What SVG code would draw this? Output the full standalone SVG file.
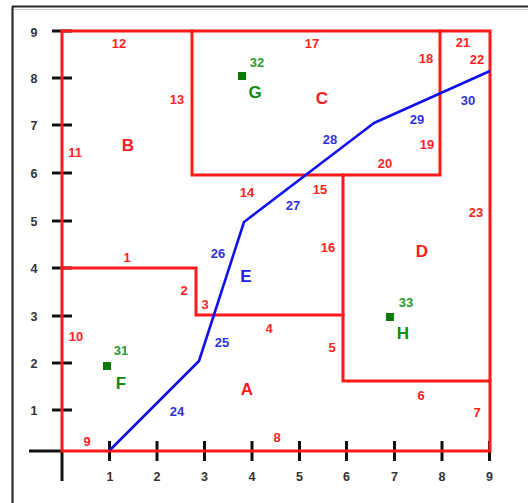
<svg xmlns="http://www.w3.org/2000/svg" width="528" height="503" viewBox="0 0 528 503">
  <style>
    .frame { stroke: #2a2a2a; stroke-width: 2.2; fill: none; }
    .frame2 { stroke: #c8c8c8; stroke-width: 1; fill: none; }
    .axis { stroke: #111; stroke-width: 3; fill: none; }
    .edge { stroke: #ff1a1a; stroke-width: 3; fill: none; stroke-linecap: square; }
    .path { stroke: #1010ee; stroke-width: 2.6; fill: none; stroke-linejoin: round; }
    text { font-family: "Liberation Sans", Arial, sans-serif; font-weight: bold; text-anchor: middle; }
    .tick { font-size: 12.5px; fill: #333; }
    .en { font-size: 13px; fill: #ff2222; }
    .bn { font-size: 13px; fill: #3030e0; }
    .gn { font-size: 13px; fill: #2a982a; }
    .rl { font-size: 17px; fill: #ff1a1a; }
    .bl { font-size: 17px; fill: #1a1ae8; }
    .gl { font-size: 17px; fill: #118a11; }
    .pt { fill: #0a7a0a; }
  </style>
  <rect x="0" y="0" width="528" height="503" fill="#ffffff"/>
  <!-- frame -->
  <line class="frame" x1="12.5" y1="6.5" x2="12.5" y2="503"/>
  <line class="frame" x1="12" y1="6.5" x2="528" y2="6.5"/>
  <line class="frame2" x1="14" y1="9.5" x2="528" y2="9.5"/>

  <!-- axes -->
  <g id="axes">
    <line class="axis" x1="29" y1="451" x2="62" y2="451"/>
    <line class="axis" x1="62" y1="451" x2="62" y2="481"/>
    <g class="axis">
      <line x1="52" y1="31" x2="72" y2="31"/>
      <line x1="52" y1="78" x2="72" y2="78"/>
      <line x1="52" y1="125" x2="72" y2="125"/>
      <line x1="52" y1="173" x2="72" y2="173"/>
      <line x1="52" y1="221" x2="72" y2="221"/>
      <line x1="52" y1="268" x2="72" y2="268"/>
      <line x1="52" y1="316" x2="72" y2="316"/>
      <line x1="52" y1="363" x2="72" y2="363"/>
      <line x1="52" y1="410" x2="72" y2="410"/>
      <line x1="109.5" y1="441" x2="109.5" y2="461"/>
      <line x1="157" y1="441" x2="157" y2="461"/>
      <line x1="204.5" y1="441" x2="204.5" y2="461"/>
      <line x1="252" y1="441" x2="252" y2="461"/>
      <line x1="299.5" y1="441" x2="299.5" y2="461"/>
      <line x1="346.5" y1="441" x2="346.5" y2="461"/>
      <line x1="394.5" y1="441" x2="394.5" y2="461"/>
      <line x1="442" y1="441" x2="442" y2="461"/>
      <line x1="489.5" y1="441" x2="489.5" y2="461"/>
    </g>
    <g class="tick">
      <text x="34" y="36.5">9</text>
      <text x="34" y="83">8</text>
      <text x="34" y="130">7</text>
      <text x="34" y="178">6</text>
      <text x="34" y="226">5</text>
      <text x="34" y="273">4</text>
      <text x="34" y="321">3</text>
      <text x="34" y="368">2</text>
      <text x="34" y="415">1</text>
      <text x="110" y="481">1</text>
      <text x="157" y="481">2</text>
      <text x="204.5" y="481">3</text>
      <text x="252" y="481">4</text>
      <text x="299.5" y="481">5</text>
      <text x="346.5" y="481">6</text>
      <text x="394.5" y="481">7</text>
      <text x="442" y="481">8</text>
      <text x="489.5" y="481">9</text>
    </g>
  </g>

  <!-- region edges -->
  <g id="edges" class="edge">
    <path d="M62,31 H490 V451 H62 Z"/>
    <path d="M192,31 V175 H440 V31"/>
    <path d="M343,175 V381 H490"/>
    <path d="M62,268 H196 V315 H343"/>
  </g>

  <!-- connectors: route polyline -->
  <g id="connectors">
    <polyline class="path" points="110,450 199,361 244,222 374,123 490,71"/>
  </g>

  <!-- edge number labels -->
  <g id="edge-labels" class="en">
    <text x="127" y="261.5">1</text>
    <text x="184" y="294.5">2</text>
    <text x="205" y="308.5">3</text>
    <text x="269" y="332.5">4</text>
    <text x="332" y="351.5">5</text>
    <text x="421" y="399.5">6</text>
    <text x="477" y="416.5">7</text>
    <text x="277" y="441.5">8</text>
    <text x="87" y="445.5">9</text>
    <text x="76" y="340.5">10</text>
    <text x="75" y="156.5">11</text>
    <text x="119" y="47.5">12</text>
    <text x="177" y="103.5">13</text>
    <text x="247" y="196.5">14</text>
    <text x="320" y="193.5">15</text>
    <text x="328" y="252">16</text>
    <text x="312" y="47.5">17</text>
    <text x="426" y="62.5">18</text>
    <text x="427" y="148.5">19</text>
    <text x="385" y="167.5">20</text>
    <text x="463" y="46.5">21</text>
    <text x="477" y="63.5">22</text>
    <text x="476" y="216.5">23</text>
  </g>

  <!-- route segment labels -->
  <g id="route-labels" class="bn">
    <text x="177" y="415.5">24</text>
    <text x="222" y="346.5">25</text>
    <text x="218" y="257.5">26</text>
    <text x="293" y="209.5">27</text>
    <text x="330" y="143.5">28</text>
    <text x="417" y="123.5">29</text>
    <text x="468" y="104.5">30</text>
  </g>

  <!-- regions -->
  <g id="region-A"><text class="rl" x="247" y="394.5">A</text></g>
  <g id="region-B"><text class="rl" x="128" y="151">B</text></g>
  <g id="region-C"><text class="rl" x="322" y="104">C</text></g>
  <g id="region-D"><text class="rl" x="422" y="257">D</text></g>
  <g id="region-E"><text class="bl" x="246" y="282">E</text></g>

  <!-- points -->
  <g id="point-F">
    <rect class="pt" x="103" y="362" width="8" height="8"/>
    <text class="gn" x="121" y="354.5">31</text>
    <text class="gl" x="121" y="389">F</text>
  </g>
  <g id="point-G">
    <rect class="pt" x="238" y="72" width="8" height="8"/>
    <text class="gn" x="257" y="66.5">32</text>
    <text class="gl" x="255" y="98">G</text>
  </g>
  <g id="point-H">
    <rect class="pt" x="386" y="313" width="8" height="8"/>
    <text class="gn" x="406" y="306.5">33</text>
    <text class="gl" x="403" y="339">H</text>
  </g>
</svg>
